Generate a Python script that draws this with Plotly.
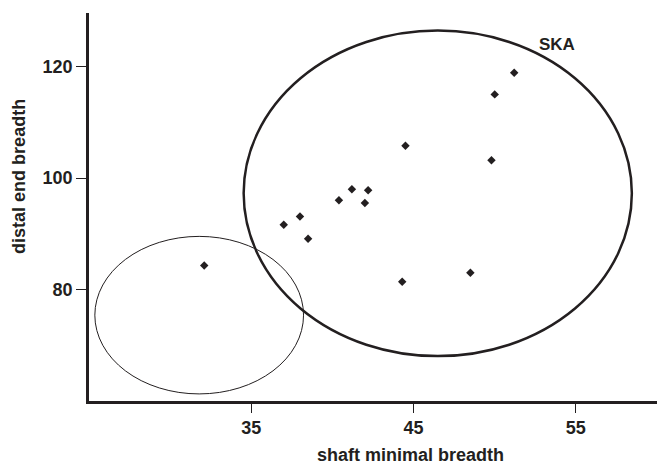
import plotly.graph_objects as go

# Data points (shaft minimal breadth, distal end breadth)
shaft_breadth = [51.2, 50.0, 44.5, 49.8, 41.2, 42.2, 40.4, 42.0, 38.0, 37.0, 38.5, 48.5, 44.3, 32.1]
distal_breadth = [118.9, 115.0, 105.8, 103.2, 98.0, 97.8, 96.0, 95.5, 93.1, 91.6, 89.1, 83.0, 81.4, 84.3]

# Ellipses: centre x, centre y, semi-axis x, semi-axis y, line width
ellipse_names = ["SKA", "other"]
ellipse_cx = [46.49, 31.79]
ellipse_cy = [97.25, 75.4]
ellipse_rx = [11.96, 6.43]
ellipse_ry = [29.2, 14.13]
ellipse_lw = [2.5, 1.0]

x_ticks = [35, 45, 55]
y_ticks = [80, 100, 120]

ink = "#231f20"
font_family = "Liberation Sans, Arial, sans-serif"

fig = go.Figure()
fig.add_trace(go.Scatter(
    x=shaft_breadth, y=distal_breadth, mode="markers",
    marker=dict(symbol="diamond", size=6.5, color=ink, line=dict(width=0)),
    showlegend=False, hoverinfo="x+y",
))

for cx, cy, rx, ry, lw in zip(ellipse_cx, ellipse_cy, ellipse_rx, ellipse_ry, ellipse_lw):
    fig.add_shape(type="circle", xref="x", yref="y",
                  x0=cx - rx, x1=cx + rx, y0=cy - ry, y1=cy + ry,
                  line=dict(color=ink, width=lw), layer="above")

fig.add_annotation(x=53.86, y=124.0, xref="x", yref="y", text="<b>SKA</b>",
                   showarrow=False, font=dict(size=17, color=ink, family=font_family))

fig.add_annotation(x=44.8, y=0, xref="x", yref="paper", yshift=-54,
                   text="<b>shaft minimal breadth</b>", showarrow=False,
                   xanchor="center", yanchor="middle",
                   font=dict(size=18, color=ink, family=font_family))
fig.add_annotation(x=0, y=100.2, xref="paper", yref="y", xshift=-70,
                   text="<b>distal end breadth</b>", showarrow=False, textangle=-90,
                   xanchor="center", yanchor="middle",
                   font=dict(size=18, color=ink, family=font_family))

fig.update_layout(
    width=657, height=465,
    margin=dict(l=89, r=0, t=13, b=64),
    paper_bgcolor="white", plot_bgcolor="white",
    font=dict(family=font_family, color=ink),
)
fig.update_xaxes(
    range=[25, 60], tickvals=x_ticks, ticktext=[f"<b>{v}</b>" for v in x_ticks],
    automargin=False,
    showgrid=False, zeroline=False, showline=True, linecolor=ink, linewidth=2.5,
    ticks="outside", ticklen=9, tickwidth=1, tickcolor=ink,
    tickfont=dict(size=18, color=ink, family=font_family),
)
fig.update_yaxes(
    range=[60, 129.6], tickvals=y_ticks, ticktext=[f"<b>{v}</b>" for v in y_ticks],
    automargin=False,
    showgrid=False, zeroline=False, showline=True, linecolor=ink, linewidth=2.5,
    ticks="outside", ticklen=10, tickwidth=1, tickcolor=ink,
    tickfont=dict(size=18, color=ink, family=font_family),
)

fig.write_html("out.html", config={"displayModeBar": False},
               post_script="document.body.style.margin='0';document.body.style.overflow='hidden';")
